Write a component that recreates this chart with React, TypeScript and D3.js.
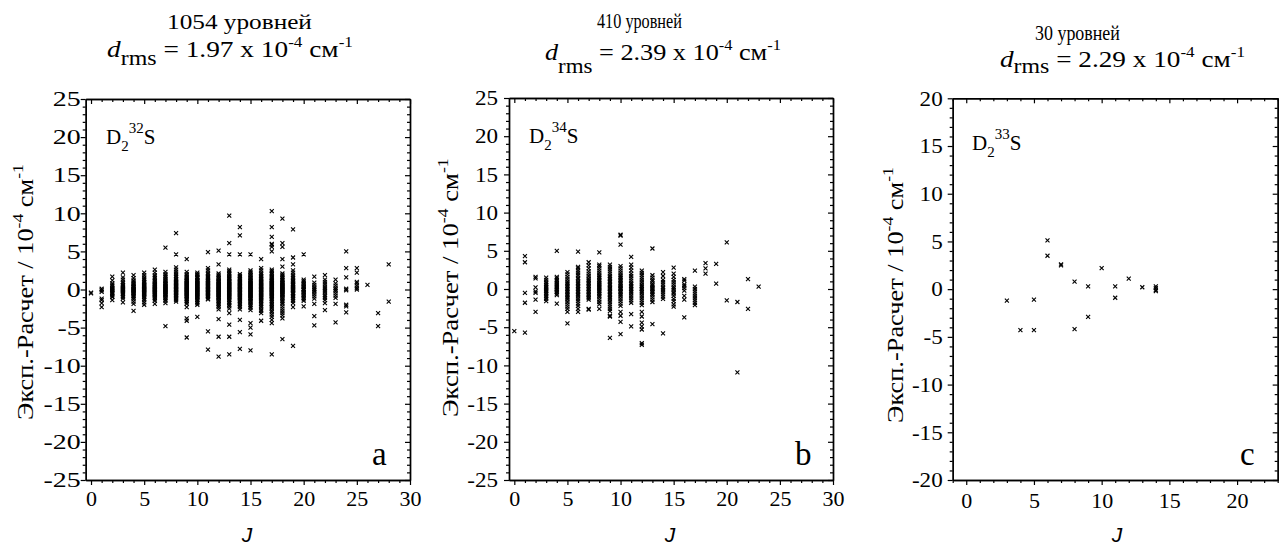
import React, { useEffect, useRef } from 'react';
import * as d3 from 'd3';

const W = 1288;
const H = 547;

const xTicksAB = [0, 5, 10, 15, 20, 25, 30];
const yTicksAB = [-25, -20, -15, -10, -5, 0, 5, 10, 15, 20, 25];
const xTicksC = [0, 5, 10, 15, 20];
const yTicksC = [-20, -15, -10, -5, 0, 5, 10, 15, 20];

// D2 32S : [J, residuals (10^-4 cm-1)]
const seriesA: [number, number[]][] = [
  [0, [-0.4, -0.5]],
  [1, [0.1, -0.1, -0.3, -1.2, -1.4, -1.8, -2.3]],
  [2, [1.7, 1.2, 0.8, 0.6, 0.4, 0.2, 0.1, 0, -0.1, -0.2, -0.4, -0.5, -0.7, -0.9, -1.0, -1.4]],
  [3, [2.2, 1.6, 1.3, 1.0, 0.8, 0.6, 0.5, 0.3, 0.2, 0.1, 0, -0.1, -0.2, -0.3, -0.5, -0.6, -0.8, -1.0, -1.2, -1.7]],
  [4, [1.9, 1.5, 1.2, 1.0, 0.8, 0.7, 0.5, 0.4, 0.3, 0.2, 0.1, 0, -0.1, -0.2, -0.3, -0.4, -0.5, -0.6, -0.8, -0.9, -1.1, -1.3, -1.6, -1.9, -2.8]],
  [5, [2.2, 1.9, 1.6, 1.4, 1.2, 1.0, 0.9, 0.7, 0.6, 0.5, 0.4, 0.3, 0.2, 0.1, 0, -0.1, -0.2, -0.3, -0.4, -0.5, -0.6, -0.7, -0.9, -1.0, -1.2, -1.4, -1.7, -2.0]],
  [6, [2.6, 2.2, 1.9, 1.7, 1.5, 1.3, 1.1, 1.0, 0.8, 0.7, 0.6, 0.5, 0.4, 0.3, 0.2, 0.1, 0, -0.1, -0.2, -0.3, -0.4, -0.5, -0.6, -0.7, -0.8, -1.0, -1.1, -1.3, -1.5, -1.9]],
  [7, [5.5, 2.3, 2.0, 1.8, 1.6, 1.4, 1.2, 1.1, 0.9, 0.8, 0.7, 0.6, 0.5, 0.4, 0.3, 0.2, 0.1, 0, -0.1, -0.2, -0.3, -0.4, -0.5, -0.6, -0.7, -0.8, -1.0, -1.1, -1.3, -1.5, -1.8, -4.8]],
  [8, [7.4, 4.6, 2.9, 2.6, 2.3, 2.0, 1.8, 1.6, 1.4, 1.3, 1.1, 1.0, 0.9, 0.8, 0.7, 0.6, 0.5, 0.4, 0.3, 0.2, 0.1, 0, -0.1, -0.2, -0.3, -0.4, -0.5, -0.6, -0.7, -0.8, -0.9, -1.1, -1.2, -1.4, -1.6]],
  [9, [4.0, 2.3, 2.0, 1.8, 1.6, 1.5, 1.3, 1.2, 1.1, 1.0, 0.9, 0.8, 0.7, 0.6, 0.5, 0.4, 0.3, 0.2, 0.1, 0, -0.1, -0.2, -0.3, -0.4, -0.5, -0.6, -0.7, -0.8, -0.9, -1.0, -1.2, -1.3, -1.5, -1.7, -1.9, -2.3, -3.8, -4.1, -6.3]],
  [10, [2.2, 2.0, 1.9, 1.7, 1.6, 1.5, 1.3, 1.2, 1.1, 1.0, 0.9, 0.8, 0.7, 0.6, 0.5, 0.4, 0.3, 0.2, 0.1, 0, -0.1, -0.2, -0.3, -0.4, -0.5, -0.6, -0.7, -0.8, -0.9, -1.0, -1.1, -1.3, -1.4, -1.6, -1.8, -2.0, -3.6]],
  [11, [4.9, 2.8, 2.5, 2.2, 2.0, 1.8, 1.6, 1.5, 1.3, 1.2, 1.1, 1.0, 0.9, 0.8, 0.7, 0.6, 0.5, 0.4, 0.3, 0.2, 0.1, 0, -0.1, -0.2, -0.3, -0.4, -0.5, -0.6, -0.7, -0.8, -0.9, -1.0, -1.2, -1.3, -5.5, -7.9]],
  [12, [5.1, 3.3, 2.1, 1.9, 1.7, 1.5, 1.4, 1.2, 1.1, 1.0, 0.9, 0.8, 0.7, 0.6, 0.5, 0.4, 0.3, 0.2, 0.1, 0, -0.1, -0.2, -0.3, -0.4, -0.5, -0.6, -0.7, -0.8, -0.9, -1.0, -1.1, -1.2, -1.4, -1.5, -1.7, -1.9, -2.1, -2.3, -2.6, -3.9, -6.2, -8.8]],
  [13, [9.7, 6.1, 4.6, 2.6, 2.4, 2.2, 2.0, 1.8, 1.6, 1.5, 1.4, 1.2, 1.1, 1.0, 0.9, 0.8, 0.7, 0.6, 0.5, 0.4, 0.3, 0.2, 0.1, 0, -0.1, -0.2, -0.3, -0.4, -0.5, -0.6, -0.7, -0.8, -0.9, -1.0, -1.1, -1.3, -1.4, -1.6, -1.8, -2.0, -2.2, -2.5, -3.1, -4.6, -6.2, -8.5]],
  [14, [8.2, 7.1, 4.6, 2.0, 1.8, 1.7, 1.5, 1.4, 1.3, 1.1, 1.0, 0.9, 0.8, 0.7, 0.6, 0.5, 0.4, 0.3, 0.2, 0.1, 0, -0.1, -0.2, -0.3, -0.4, -0.5, -0.6, -0.7, -0.8, -0.9, -1.0, -1.1, -1.2, -1.4, -1.5, -1.7, -1.9, -2.1, -2.3, -2.6, -4.0, -5.6, -7.8]],
  [15, [4.6, 2.5, 2.3, 2.1, 1.9, 1.8, 1.6, 1.5, 1.3, 1.2, 1.1, 1.0, 0.9, 0.8, 0.7, 0.6, 0.5, 0.4, 0.3, 0.2, 0.1, 0, -0.1, -0.2, -0.3, -0.4, -0.5, -0.6, -0.7, -0.8, -0.9, -1.0, -1.1, -1.2, -1.3, -1.5, -1.6, -1.8, -2.0, -2.2, -2.4, -2.7, -4.4, -5.0, -5.9, -8.0]],
  [16, [4.0, 2.8, 2.5, 2.2, 2.0, 1.8, 1.7, 1.5, 1.4, 1.3, 1.1, 1.0, 0.9, 0.8, 0.7, 0.6, 0.5, 0.4, 0.3, 0.2, 0.1, 0, -0.1, -0.2, -0.3, -0.4, -0.5, -0.6, -0.7, -0.8, -0.9, -1.0, -1.1, -1.2, -1.4, -1.5, -1.7, -1.9, -2.1, -2.3, -2.6, -2.8, -3.1, -4.1]],
  [17, [10.3, 8.2, 6.9, 6.0, 5.9, 5.6, 5.0, 2.6, 2.4, 2.2, 2.0, 1.8, 1.6, 1.5, 1.3, 1.2, 1.1, 1.0, 0.9, 0.8, 0.7, 0.6, 0.5, 0.4, 0.3, 0.2, 0.1, 0, -0.1, -0.2, -0.3, -0.4, -0.5, -0.6, -0.7, -0.8, -0.9, -1.0, -1.2, -1.3, -1.5, -1.7, -1.9, -2.1, -2.3, -2.5, -2.8, -3.0, -3.3, -3.6, -4.0, -4.4, -8.5]],
  [18, [9.3, 6.1, 5.6, 4.0, 3.0, 2.1, 1.9, 1.7, 1.5, 1.3, 1.2, 1.0, 0.9, 0.8, 0.7, 0.6, 0.5, 0.4, 0.3, 0.2, 0.1, 0, -0.1, -0.2, -0.3, -0.4, -0.5, -0.6, -0.7, -0.8, -1.0, -1.1, -1.3, -1.5, -1.7, -1.9, -2.2, -2.5, -2.8, -3.1, -3.4, -3.8, -6.5]],
  [19, [7.9, 4.2, 3.3, 2.5, 2.2, 1.9, 1.7, 1.5, 1.3, 1.1, 1.0, 0.8, 0.7, 0.6, 0.5, 0.3, 0.2, 0.1, 0, -0.1, -0.2, -0.4, -0.5, -0.6, -0.8, -0.9, -1.1, -1.3, -1.5, -1.8, -2.3, -7.4]],
  [20, [4.6, 1.3, 1.1, 0.9, 0.7, 0.6, 0.4, 0.3, 0.1, 0, -0.1, -0.3, -0.4, -0.6, -0.7, -0.9, -1.1, -1.3, -1.5, -2.2]],
  [21, [1.7, 0.9, 0.6, 0.3, 0.1, -0.1, -0.3, -0.6, -0.9, -1.2, -1.9, -3.5, -4.7]],
  [22, [1.9, 1.3, 1.0, 0.7, 0.4, 0.2, 0, -0.2, -0.4, -0.7, -0.9, -1.1, -1.4, -1.8, -2.7]],
  [23, [1.3, 0.8, 0.5, 0.2, 0, -0.2, -0.5, -0.8, -1.1, -1.9, -4.3]],
  [24, [5.0, 2.8, 1.6, 0.1, -0.1, -2.0, -2.2, -3.0]],
  [25, [2.8, 2.2, 1.0, 0.8, 0.5, 0.2, 0]],
  [26, [0.6]],
  [27, [-3.1, -4.8]],
  [28, [3.3, -1.6]],
];

// D2 34S
const seriesB: [number, number[]][] = [
  [0, [-5.5]],
  [1, [4.3, 3.5, -0.5, -1.8, -5.7]],
  [2, [1.6, 1.4, 0.2, -0.3, -0.5, -1.4, -3.0]],
  [3, [1.5, 1.2, 0.9, 0.7, 0.5, 0.3, 0.2, 0, -0.2, -0.3, -0.5, -0.7, -0.9, -1.1, -1.3, -1.6]],
  [4, [5.0, 1.6, 1.4, 1.2, 1.0, 0.8, 0.6, 0.5, 0.3, 0.2, 0, -0.1, -0.3, -0.4, -0.6, -0.8, -1.9]],
  [5, [2.2, 1.9, 1.6, 1.3, 1.0, 0.8, 0.6, 0.4, 0.2, 0, -0.2, -0.4, -0.6, -0.8, -1.0, -1.2, -1.4, -1.7, -2.0, -2.3, -2.6, -3.0, -4.5]],
  [6, [4.9, 2.9, 2.7, 2.4, 2.1, 1.8, 1.5, 1.3, 1.0, 0.8, 0.6, 0.4, 0.2, 0, -0.2, -0.4, -0.6, -0.8, -1.0, -1.3, -1.6, -1.9, -2.2, -2.6, -3.0]],
  [7, [3.5, 3.1, 2.7, 2.3, 2.0, 1.7, 1.4, 1.2, 1.0, 0.8, 0.6, 0.4, 0.2, 0, -0.2, -0.4, -0.6, -0.8, -1.0, -1.2, -1.4, -2.6, -2.7]],
  [8, [4.8, 3.2, 3.0, 2.7, 2.4, 2.1, 1.8, 1.6, 1.4, 1.2, 1.0, 0.8, 0.6, 0.5, 0.3, 0.2, 0, -0.2, -0.3, -0.5, -0.7, -0.9, -1.1, -1.4, -1.7, -2.0, -2.6]],
  [9, [3.2, 2.9, 2.6, 2.3, 2.0, 1.7, 1.5, 1.3, 1.1, 0.9, 0.7, 0.5, 0.3, 0.1, 0, -0.2, -0.4, -0.6, -0.8, -1.0, -1.2, -1.4, -1.7, -2.0, -2.3, -2.6, -2.9, -3.5, -3.6, -6.4]],
  [10, [7.1, 7.0, 5.8, 3.0, 2.7, 2.4, 2.1, 1.8, 1.6, 1.4, 1.2, 1.0, 0.8, 0.6, 0.4, 0.2, 0.1, 0, -0.2, -0.4, -0.6, -0.8, -1.0, -1.3, -1.6, -1.9, -2.2, -3.0, -3.5, -4.3, -5.9]],
  [11, [4.2, 3.2, 2.8, 2.4, 2.0, 1.7, 1.4, 1.1, 0.8, 0.6, 0.4, 0.2, 0, -0.2, -0.4, -0.6, -0.9, -1.2, -1.5, -1.8, -3.3, -4.9]],
  [12, [2.4, 2.1, 1.8, 1.5, 1.2, 0.9, 0.6, 0.4, 0.2, 0, -0.2, -0.4, -0.6, -0.9, -1.2, -1.5, -1.8, -2.1, -3.0, -3.6, -4.4, -4.9, -5.3, -7.1, -7.3]],
  [13, [5.3, 1.8, 1.5, 1.2, 1.0, 0.7, 0.5, 0.3, 0.1, 0, -0.2, -0.4, -0.6, -0.8, -1.1, -1.4, -1.7, -4.6]],
  [14, [2.2, 1.7, 1.2, 0.9, 0.6, 0.3, 0.1, -0.1, -0.4, -0.7, -1.0, -1.3, -5.8]],
  [15, [2.8, 2.0, 1.6, 1.2, 0.9, 0.6, 0.3, 0.1, -0.1, -0.4, -0.6, -0.9, -1.3, -1.6, -2.0, -2.3]],
  [16, [1.3, 1.1, 0.6, 0.4, 0.1, -0.2, -0.9, -1.4, -3.7]],
  [17, [2.4, 0.3, 0, -0.3, -0.6, -0.9, -1.2, -1.5, -1.8, -2.1]],
  [18, [3.4, 2.7, 2.0]],
  [19, [3.3, 0.7]],
  [20, [6.1, -1.5]],
  [21, [-1.7, -10.9]],
  [22, [1.3, -2.6]],
  [23, [0.3]],
];

// D2 33S
const seriesC: [number, number[]][] = [
  [3, [-1.2]],
  [4, [-4.3]],
  [5, [-1.1, -4.3]],
  [6, [5.1, 3.5]],
  [7, [2.6, 2.5]],
  [8, [0.8, -4.2]],
  [9, [0.3, -2.9]],
  [10, [2.2]],
  [11, [0.3, -0.9]],
  [12, [1.1]],
  [13, [0.2]],
  [14, [0.3, 0.1, -0.1, -0.2]],
];

const levelLabels = ['1054 уровней', '410 уровней', '30 уровней'];
const rmsValues = ['1.97', '2.39', '2.29'];
const isotopeMass = ['32', '34', '33'];
const panelLetters = ['a', 'b', 'c'];

const SERIF = '"Liberation Serif", "Times New Roman", Times, serif';
const SANS = '"Liberation Sans", Arial, sans-serif';

const panels = [
  {
    left: 85.7, right: 410, top: 99, bottom: 480,
    xDomain: [-0.5, 30], yDomain: [-25, 25], xTicks: xTicksAB, yTicks: yTicksAB,
    series: seriesA,
    title: { x: 167, y: 29, w: 145 },
    rms: { x: 107, y: 57, w: 246, sub: 8 },
    ylab: { x: 33, y: 420, len: 256 },
    iso: { x: 106, y: 144 },
    letter: { x: 372, y: 465 },
    jx: 247,
    yLabGap: 0, yLabScale: 1.33, xLabPad: 5,
  },
  {
    left: 509, right: 833, top: 98, bottom: 480,
    xDomain: [-0.5, 30], yDomain: [-25, 25], xTicks: xTicksAB, yTicks: yTicksAB,
    series: seriesB,
    title: { x: 597, y: 28, w: 85 },
    rms: { x: 545, y: 60, w: 236, sub: 13 },
    ylab: { x: 458, y: 417, len: 259 },
    iso: { x: 529, y: 143 },
    letter: { x: 795, y: 465 },
    jx: 670,
    yLabGap: 6, yLabScale: 1.1, xLabPad: 5,
  },
  {
    left: 952.7, right: 1277.7, top: 98.3, bottom: 480,
    xDomain: [-1, 23], yDomain: [-20, 20], xTicks: xTicksC, yTicks: yTicksC,
    series: seriesC,
    title: { x: 1035, y: 40, w: 85 },
    rms: { x: 1000, y: 67, w: 245, sub: 6 },
    ylab: { x: 903, y: 423, len: 256 },
    iso: { x: 972, y: 150 },
    letter: { x: 1240, y: 465 },
    jx: 1117,
    yLabGap: 5, yLabScale: 1.1, xLabPad: 7,
  },
];

function fitText(
  parent: any,
  x: number, y: number, width: number, rotate: number,
  build: (t: d3.Selection<SVGTextElement, unknown, null, undefined>) => void,
) {
  const g = parent.append('g').attr('transform', `translate(${x},${y}) rotate(${rotate})`);
  const t = g.append('text').attr('x', 0).attr('y', 0).attr('fill', '#000').style('white-space', 'pre');
  build(t);
  const node = t.node() as SVGTextElement;
  const w = node.getBBox().width;
  if (w > 0) t.attr('transform', `scale(${width / w},1)`);
}

export default function App() {
  const ref = useRef<SVGSVGElement>(null);

  useEffect(() => {
    const svg = d3.select(ref.current as SVGSVGElement);
    svg.selectAll('*').remove();
    const root = svg.append('g');

    panels.forEach((p, i) => {
      const x = d3.scaleLinear().domain(p.xDomain).range([p.left, p.right]);
      const y = d3.scaleLinear().domain(p.yDomain).range([p.bottom, p.top]);
      const g = root.append('g');

      const xMinor = d3.range(Math.ceil(p.xDomain[0]), p.xDomain[1] + 0.001, 1).filter((v) => v % 5 !== 0);
      const yMinor = d3.range(p.yDomain[0], p.yDomain[1] + 0.001, 1).filter((v) => v % 5 !== 0);

      const styleAxis = (sel: any) => {
        sel.attr('font-family', SERIF);
        sel.selectAll('path.domain').attr('stroke', '#000').attr('stroke-width', 1.4);
        sel.selectAll('.tick line').attr('stroke', '#000').attr('stroke-width', 1.2);
        sel.selectAll('.tick text').attr('fill', '#000').attr('font-family', SERIF);
      };

      // bottom
      const bx = g.append('g').attr('transform', `translate(0,${p.bottom})`)
        .call(d3.axisBottom(x).tickValues(p.xTicks).tickSize(5).tickSizeOuter(0).tickPadding(p.xLabPad).tickFormat((d) => String(d)))
        .call(styleAxis);
      bx.selectAll('.tick text').attr('font-size', 22);
      g.append('g').attr('transform', `translate(0,${p.bottom})`)
        .call(d3.axisBottom(x).tickValues(xMinor).tickSize(3).tickSizeOuter(0).tickFormat(() => ''))
        .call(styleAxis);
      // top
      g.append('g').attr('transform', `translate(0,${p.top})`)
        .call(d3.axisTop(x).tickValues(p.xTicks).tickSize(-5).tickSizeOuter(0).tickFormat(() => ''))
        .call(styleAxis);
      g.append('g').attr('transform', `translate(0,${p.top})`)
        .call(d3.axisTop(x).tickValues(xMinor).tickSize(-3).tickSizeOuter(0).tickFormat(() => ''))
        .call(styleAxis);
      // left
      const ly = g.append('g').attr('transform', `translate(${p.left},0)`)
        .call(d3.axisLeft(y).tickValues(p.yTicks).tickSize(5).tickSizeOuter(0).tickPadding(0).tickFormat((d) => String(d)))
        .call(styleAxis);
      ly.selectAll('.tick text')
        .attr('font-size', 21)
        .attr('x', 0)
        .attr('transform', `translate(${-(5 + p.yLabGap)},0) scale(${p.yLabScale},1)`);
      g.append('g').attr('transform', `translate(${p.left},0)`)
        .call(d3.axisLeft(y).tickValues(yMinor).tickSize(3).tickSizeOuter(0).tickFormat(() => ''))
        .call(styleAxis);
      // right
      g.append('g').attr('transform', `translate(${p.right},0)`)
        .call(d3.axisRight(y).tickValues(p.yTicks).tickSize(-5).tickSizeOuter(0).tickFormat(() => ''))
        .call(styleAxis);
      g.append('g').attr('transform', `translate(${p.right},0)`)
        .call(d3.axisRight(y).tickValues(yMinor).tickSize(-3).tickSizeOuter(0).tickFormat(() => ''))
        .call(styleAxis);

      // points
      const pts: [number, number][] = [];
      p.series.forEach(([j, vals]) => vals.forEach((v) => pts.push([j, v])));
      const s = 2;
      g.append('g').selectAll('path').data(pts).join('path')
        .attr('d', (d) => {
          const cx = x(d[0]);
          const cy = y(d[1]);
          return `M${cx - s},${cy - s}L${cx + s},${cy + s}M${cx - s},${cy + s}L${cx + s},${cy - s}`;
        })
        .attr('stroke', '#000').attr('stroke-width', 1.1).attr('fill', 'none');

      // titles
      fitText(g, p.title.x, p.title.y, p.title.w, 0, (t) => {
        t.attr('font-family', SERIF).attr('font-size', 21).text(levelLabels[i]);
      });
      fitText(g, p.rms.x, p.rms.y, p.rms.w, 0, (t) => {
        t.attr('font-family', SERIF).attr('font-size', 24);
        t.append('tspan').attr('font-style', 'italic').text('d');
        t.append('tspan').attr('dy', p.rms.sub).attr('font-size', 21).text('rms');
        t.append('tspan').attr('dy', -p.rms.sub).text(` = ${rmsValues[i]} x 10`);
        t.append('tspan').attr('dy', -10).attr('font-size', 15).text('-4');
        t.append('tspan').attr('dy', 10).text(' см');
        t.append('tspan').attr('dy', -10).attr('font-size', 15).text('-1');
      });

      // y label
      fitText(g, p.ylab.x, p.ylab.y, p.ylab.len, -90, (t) => {
        t.attr('font-family', SERIF).attr('font-size', 22.5);
        t.append('tspan').text('Эксп.-Расчет / 10');
        t.append('tspan').attr('dy', -10).attr('font-size', 15).text('-4');
        t.append('tspan').attr('dy', 10).text(' см');
        t.append('tspan').attr('dy', -10).attr('font-size', 15).text('-1');
      });

      // isotope label
      const iso = g.append('text').attr('x', p.iso.x).attr('y', p.iso.y)
        .attr('font-family', SERIF).attr('font-size', 21).attr('fill', '#000');
      iso.append('tspan').text('D');
      iso.append('tspan').attr('dy', 7).attr('font-size', 15).text('2');
      iso.append('tspan').attr('dy', -18).attr('font-size', 15).text(isotopeMass[i]);
      iso.append('tspan').attr('dy', 11).text('S');

      // panel letter
      g.append('text').attr('x', p.letter.x).attr('y', p.letter.y)
        .attr('font-family', SERIF).attr('font-size', 33).attr('fill', '#000').text(panelLetters[i]);

      // x label
      g.append('text').attr('x', p.jx).attr('y', 542).attr('text-anchor', 'middle')
        .attr('font-family', SANS).attr('font-style', 'italic').attr('font-size', 21).attr('fill', '#000').text('J');
    });
  }, []);

  return (
    <svg ref={ref} width={W} height={H} viewBox={`0 0 ${W} ${H}`}
      style={{ position: 'absolute', left: 0, top: 0, background: '#fff' }} />
  );
}
